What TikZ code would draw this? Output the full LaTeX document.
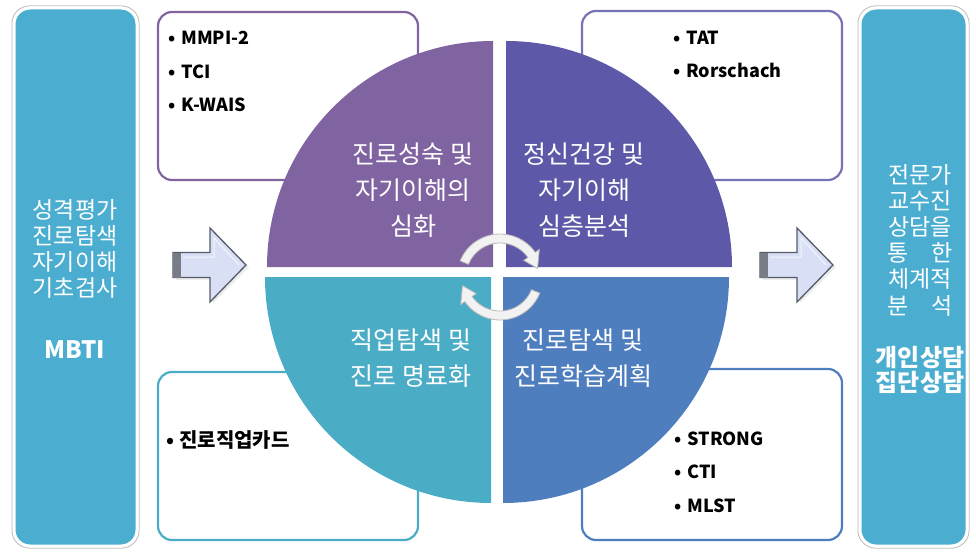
\documentclass[tikz,border=0pt]{standalone}
\usepackage{fontspec}
\setmainfont{Noto Sans CJK KR}
\usetikzlibrary{positioning}

\definecolor{barblue}{HTML}{4BAED0}
\definecolor{qpurple}{HTML}{8064A2}
\definecolor{qindigo}{HTML}{5D59A8}
\definecolor{qaqua}{HTML}{4BACC6}
\definecolor{qblue}{HTML}{4F7EBE}
\definecolor{arrowfill}{HTML}{D9E0F5}
\definecolor{arrowedge}{HTML}{555B68}

\tikzset{
  sidebar/.style={draw=white, line width=3pt, fill=barblue, rounded corners=16pt, inner sep=0pt},
  barshadow/.style={draw=gray!50, line width=1pt, rounded corners=17.5pt},
  testbox/.style={draw=#1, line width=2.2pt, fill=white, rounded corners=14pt, inner sep=0pt},
  quartertext/.style={text=white, font=\fontsize{25}{36}\selectfont, align=center},
  bartext/.style={text=white, font=\fontsize{23}{26.2}\selectfont, align=center},
  barbold/.style={text=white, font=\fontsize{24}{25}\selectfont\bfseries, align=center},
  itemtext/.style={font=\fontsize{18}{33.5}\selectfont\bfseries, align=left, inner sep=0pt},
  cyclearrow/.style={fill=white!90!gray, draw=gray!55, line width=0.8pt},
  nextarrow/.pic={
    \fill[gray!30, opacity=.5] (3,-9) -- (40,-9) -- (40,-34) -- (76,2) -- (40,38) -- (40,15) -- (3,15) -- cycle;
    \draw[fill=arrowfill, draw=arrowedge, line width=1.3pt] (0,-12.5) -- (37,-12.5) -- (37,-37) -- (73,0) -- (37,37) -- (37,12.5) -- (0,12.5) -- cycle;
    \fill[arrowedge!80] (0,-12.5) rectangle (8,12.5);
    \draw[white!70!arrowfill, line width=1pt] (10,-8) -- (41,-8) -- (41,-27) -- (66,0);
  }
}

\begin{document}
\begin{tikzpicture}[x=1pt, y=-1pt]
\useasboundingbox (0,0) rectangle (976,553);

% side bars
\draw[barshadow] (12,6) rectangle (139,548);
\node[sidebar, minimum width=123, minimum height=538] (leftbar) at (75.5,277) {};
\draw[barshadow] (858,6) rectangle (969,548);
\node[sidebar, minimum width=107, minimum height=538] (rightbar) at (913.5,277) {};

\node[bartext] (basics) at (75,249) {성격평가\\진로탐색\\자기이해\\기초검사};
\node[barbold] (mbti) at (75,350) {MBTI};
\node[bartext] (experts) at (920,240) {전문가\\교수진\\상담을\\통\hspace{1em}한\\체계적\\분\hspace{1em}석};
\node[barbold] (counsel) at (920,370) {개인상담\\집단상담};

% test boxes
\node[testbox=qpurple, minimum width=260, minimum height=168] (boxtl) at (288,96) {};
\node[testbox=qindigo!85!white, minimum width=260, minimum height=169] (boxtr) at (712,95.5) {};
\node[testbox=qaqua, minimum width=260, minimum height=168] (boxbl) at (288,456) {};
\node[testbox=qblue, minimum width=260, minimum height=171] (boxbr) at (712,454.5) {};

% quarters
\fill[qpurple] (493,267) -- ++(180:226) arc[start angle=180, end angle=270, radius=226] -- cycle;
\fill[qindigo] (506,267) -- ++(270:226) arc[start angle=270, end angle=360, radius=226] -- cycle;
\fill[qblue] (503,277) -- ++(0:226) arc[start angle=0, end angle=90, radius=226] -- cycle;
\fill[qaqua] (491,277) -- ++(90:226) arc[start angle=90, end angle=180, radius=226] -- cycle;

\node[quartertext] (maturity) at (413,190) {진로성숙 및\\자기이해의\\심화};
\node[quartertext] (health) at (584,190) {정신건강 및\\자기이해\\심층분석};
\node[quartertext] (jobs) at (411,358) {직업탐색 및\\진로 명료화};
\node[quartertext] (planning) at (583,358) {진로탐색 및\\진로학습계획};

% test lists
\node[itemtext, anchor=north west] (listtl) at (168,31) {•\hspace{6pt}MMPI-2\\•\hspace{6pt}TCI\\•\hspace{6pt}K-WAIS};
\node[itemtext, anchor=north west] (listtr) at (673,30.5) {•\hspace{6pt}TAT\\•\hspace{6pt}Rorschach};
\node[itemtext, anchor=west, font=\fontsize{20}{24}\selectfont\bfseries] (listbl) at (166,440) {•\hspace{5pt}진로직업카드};
\node[itemtext, anchor=north west] (listbr) at (674,431.5) {•\hspace{6pt}STRONG\\•\hspace{6pt}CTI\\•\hspace{6pt}MLST};

% cycle in the middle
\begin{scope}[shift={(500,277)}]
\draw[cyclearrow] (-158:43) arc[start angle=-158, end angle=-35, radius=43] -- (-35:48) -- (-13:38.5) -- (-35:29) -- (-35:34) arc[start angle=-35, end angle=-158, radius=34] -- cycle;
\draw[cyclearrow] (22:43) arc[start angle=22, end angle=145, radius=43] -- (145:48) -- (167:38.5) -- (145:29) -- (145:34) arc[start angle=145, end angle=22, radius=34] -- cycle;
\end{scope}

% block arrows
\pic at (173,265) {nextarrow};
\pic at (760,265) {nextarrow};
\end{tikzpicture}
\end{document}
